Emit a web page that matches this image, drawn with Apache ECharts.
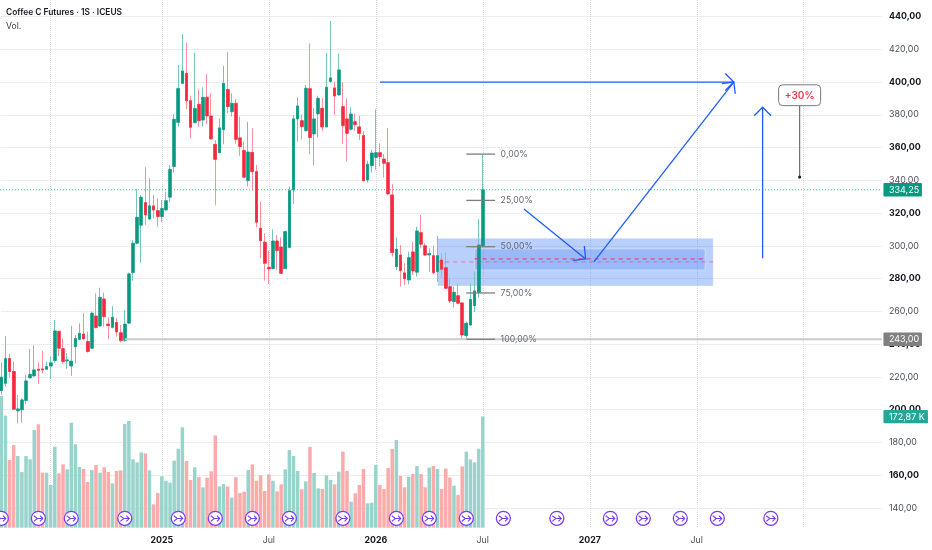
<!DOCTYPE html>
<html>
<head>
<meta charset="utf-8">
<style>html,body{margin:0;padding:0;background:#fff}#c{width:932px;height:550px}</style>
<script src="https://cdn.jsdelivr.net/npm/echarts@6/dist/echarts.min.js"></script>
</head>
<body>
<div id="c"></div>
<script>
const opens=[211.7,216.1,231.2,223.3,199.3,199.9,205.6,219.4,220.6,224.7,224.9,224.7,226.7,230,247.9,237.3,229.8,226.7,238.5,243,246.2,241.6,237.5,257.2,251.1,267.6,252.3,250.3,253.2,247,242.2,252.8,283.7,301.6,312.6,326.4,316.4,324.4,321.5,317.9,321.9,329.7,348.4,375.4,399.2,405.3,388.6,375.2,386.4,376.8,390.7,379.3,362,356.9,371,395.4,381.9,387,365.9,358.3,339.8,357.1,345.3,310.7,302.2,286.9,286.1,303,299.3,286.1,299.1,334.1,377.5,376.4,370.3,396,368.3,380.5,384,372.6,400.4,396.4,392.1,385,377.5,371.2,375.8,372.6,367.3,340.2,349,354,356.9,353,350.8,331.1,287.3,294.4,283.5,279.2,296.3,283.9,308.1,300.1,294.5,294,284.3,291.4,286.7,275.1,266,269.6,265.2,245.2,251.7,263.5,271.7,300.1];
const highs=[228.8,245,234,229.4,209,207,221.2,237.1,239.3,229,235.9,229.4,232.4,254.8,248,243.6,234.4,251.1,245.6,252.8,258.9,247.7,259.9,271,274.5,271.5,256.4,263.3,255.8,251.7,260.9,283.7,303.6,334.7,331.1,348,341.2,331.1,329,328,333.1,349.4,380.5,410.4,429.3,424,391.7,417.9,395.6,396.8,404.9,393.1,364.6,377.9,410,418.5,393.1,389.7,378.9,363.6,375.8,371.8,349.4,327,307.7,297.1,310.1,306.6,305.2,309.3,336.2,379.9,390.7,380.3,398.2,423.6,384,391.7,390.1,417.9,437.2,400.2,417.5,399.8,390.1,384.6,380.9,379.3,370.1,352,358.6,383.4,362.6,356.1,372,337.8,305,300.5,289.4,296.5,302.6,311.7,318.9,301.6,298.5,300.1,306,295.5,296.1,280.2,275.1,277.2,265.4,253.8,277.2,284.3,316.2,356.1];
const lows=[209,214.1,219.8,199.9,191.7,192.1,203.3,219.2,220.2,215.7,222.2,224.3,218.8,228.8,232.8,228,224.9,220.6,228.3,242.6,243,234.9,237.1,249.7,250.7,250.7,243,249.7,244.6,241,241.6,252.8,278.8,301,289.4,312.8,315.8,316.8,311.8,314.4,321.5,326.6,344.7,372.8,398.8,383.4,365.7,374.8,372.8,372.8,374.4,364.6,324.8,356.5,362,380.9,378.9,362.2,354.9,341.3,336.2,333.7,311.4,292.4,278.8,276.7,285.7,285.3,282.8,285.7,298.5,325.6,363.6,365,369.7,355.9,349,366.3,370,372.4,399.6,379.9,391.7,362.2,351.4,370.3,370.3,364.6,339.2,338.6,344.7,346.3,348.4,341.7,331.1,293.5,285.3,275.1,276.1,276.5,282.2,281.2,298.5,294,283.9,282.8,278.2,280.6,274,265,262.3,264.3,242.6,243,251.3,259.5,268.4,299.5];
const closes=[219.8,231.2,223.3,200.3,200.5,206,217.6,221.6,224.3,224.1,224.3,226.3,228.6,248.1,237.5,229.4,230.4,229.6,243.4,246.6,243.2,235.5,258.9,250.1,268.6,256.8,251.3,256.4,247.5,242.2,252.3,282.9,301.6,317.5,329.7,318.9,324.4,321.9,317.9,322.9,327.6,346.7,377.3,396,406.7,388.6,372.4,383.8,376.4,390.7,379.3,365.3,352.8,372,399.2,385,387,365,360.6,341.9,357.3,345.3,314.4,303.2,289.4,285.9,303,297.1,283.2,308.7,333.7,377.5,385.4,372.8,396.2,366.1,377.5,390.1,372.6,396.8,402.5,391.5,407.4,373.4,368.7,380.5,374,368.7,339.8,349.8,356.7,356.9,354.5,350.4,331.7,295.9,297.9,284.9,280,292.8,284.7,309.1,301,294.4,295.3,283.7,294,285.7,274.1,266.4,271.7,265,245.6,252.8,267.2,272.5,300.5,334.25];
const volumes=[204.9,174.3,105.3,128.6,111.5,86.6,111.5,106.3,152,160.8,85.6,85.6,66.4,126,84.5,98.6,90.8,163.4,129.7,94.4,91.3,71.1,89.7,97.5,85.6,93.9,86.6,69,88.2,89.2,161.3,166,106.3,101.7,117.2,115.7,89.2,36.3,53.9,79.9,73.1,70,104.3,122.9,156.1,103.7,74.2,93.9,78.8,62.8,77.8,87.7,143.7,64.3,67.9,64.3,46.7,78.8,53.9,56,89.7,98.6,73.1,81.4,57.1,83,73.1,56.5,67.4,90.8,120.9,111.5,88.2,59.7,72.1,125.5,85.1,61.2,60.2,81.4,74.2,67.4,87.1,118.3,88.2,40.5,53.4,66.4,91.3,37.9,38.9,97.5,66.4,60.2,92.8,122.4,136.4,80.4,62.8,79.4,83.5,96,83.5,62.8,93.4,96,91.3,60.2,91.8,77.8,65.4,50.8,95.4,118.3,106.3,101.7,122.9,172.87];
const tickIndex=[12,39,65,91,117,143,169,195];
const tickLabels=['Jul','2025','Jul','2026','Jul','2027','Jul','2028'];
const boldPrices=[440,400,360,320,280,240,200,160];
const eventIndex=[0,9,17,30,43,52,61,70,83,96,104,113,122,135,148,156,165,174,187];
const eventLevel=[14.6];
const fibLevels=[356,327.75,299.5,271.25,243];
const fibLabels=['0,00%','25,00%','50,00%','75,00%','100,00%'];
const fibRange=[113,120];
const supportLine=[30,214,243];
const lastPrice=334.25;
const zoneOuter=[106,304.6,173,275.5];
const zoneInner=[115,298.1,171,285.3];
const dashLines=[[115,171,292],[106,173,290.2]];
const arrows=[[92,400,178,400],[127,322.5,142,292],[144,290.2,178,400],[185,292.4,185,384.6]];
const callout=[194,342,385.6,398.3,'+30%'];
const barCount=215;

const cats=Array.from({length:barCount},(_,i)=>String(i));
const tickAt=new Map(tickIndex.map((t,i)=>[t,tickLabels[i]]));
const UP='#089981',DOWN='#f5293f',UPW='#74c7b8',DOWNW='#f8919c',UPV='#98d4cb',DOWNV='#fcabab';
const FONT='Inter, "Noto Sans", sans-serif';
const GRID='#d9dbe1';
const fmt=v=>v.toFixed(2).replace('.',',');
const isUp=i=>closes[i]>=opens[i];

function head(a,b,len,ang){
  const t=Math.atan2(b[1]-a[1],b[0]-a[0]);
  return [[b[0]-len*Math.cos(t-ang),b[1]-len*Math.sin(t-ang)],b,[b[0]-len*Math.cos(t+ang),b[1]-len*Math.sin(t+ang)]];
}
const line=(p,q,style)=>({type:'line',shape:{x1:p[0],y1:p[1],x2:q[0],y2:q[1]},style:Object.assign({fill:null},style)});
const poly=(pts,style)=>({type:'polyline',shape:{points:pts},style:Object.assign({fill:null},style)});

function renderZones(p,api){
  const r=(z,fill)=>{const a=api.coord([z[0],z[1]]),b=api.coord([z[2],z[3]]);
    return {type:'rect',shape:{x:a[0],y:a[1],width:b[0]-a[0],height:b[1]-a[1]},style:{fill:fill,stroke:'rgba(255,255,255,0.35)',lineWidth:1}};};
  return {type:'group',children:[r(zoneOuter,'rgba(41,110,245,0.33)'),r(zoneInner,'rgba(41,110,245,0.22)')]};
}
function renderMarks(p,api){
  const c=[];
  const rightEnd=api.coord([barCount-1,lastPrice])[0];
  const zero=api.coord([0,lastPrice]);
  c.push(line([0,zero[1]],[rightEnd,zero[1]],{stroke:'#3fb8a3',lineWidth:1,lineDash:[1,2]}));
  const s1=api.coord([supportLine[0],supportLine[2]]),s2=api.coord([supportLine[1],supportLine[2]]);
  c.push(line(s1,s2,{stroke:'#cacaca',lineWidth:2}));
  dashLines.forEach((d,i)=>c.push(line(api.coord([d[0],d[2]]),api.coord([d[1],d[2]]),{stroke:i?'rgba(242,54,100,0.45)':'rgba(235,40,100,0.8)',lineWidth:1.2,lineDash:[4,4]})));
  fibLevels.forEach((v,i)=>{
    const a=api.coord([fibRange[0],v]),b=api.coord([fibRange[1],v]);
    c.push(line(a,b,{stroke:'#7d7d7d',lineWidth:1.3}));
    c.push({type:'text',style:{text:fibLabels[i],x:b[0]+5.5,y:b[1],fill:'#666973',font:'8.7px '+FONT,textAlign:'left',textVerticalAlign:'middle'}});
  });
  arrows.forEach((r,i)=>{
    const a=api.coord([r[0],r[1]]),b=api.coord([r[2],r[3]]);
    const st={stroke:'#1f5cff',lineWidth:1.3};
    c.push(line(a,b,st));
    c.push(poly(head(a,b,i===1?13:12,Math.PI/4),st));
  });
  const d=api.coord([callout[0],callout[1]]),bot=api.coord([callout[0],callout[2]]),top=api.coord([callout[0],callout[3]]);
  c.push(line(bot,d,{stroke:'#6f6f6f',lineWidth:1.2}));
  c.push({type:'circle',shape:{cx:d[0],cy:d[1],r:1.6},style:{fill:'#222'}});
  c.push({type:'rect',shape:{x:d[0]-21,y:top[1],width:42,height:bot[1]-top[1],r:4},style:{fill:'#fff',stroke:'#7a7a7a',lineWidth:1}});
  c.push({type:'text',style:{text:callout[4],x:d[0],y:(top[1]+bot[1])/2+.5,fill:'#f23645',font:'600 10px '+FONT,textAlign:'center',textVerticalAlign:'middle'}});
  const tag=(y,text,fill,w)=>{
    c.push({type:'rect',shape:{x:rightEnd+1.5,y:y-6.7,width:w,height:13.4,r:1},style:{fill:fill}});
    c.push({type:'text',style:{text:text,x:rightEnd+7,y:y+.3,fill:'#fff',font:'9px '+FONT,textAlign:'left',textVerticalAlign:'middle'}});
  };
  tag(api.coord([0,lastPrice])[1],fmt(lastPrice),UP,38.5);
  tag(api.coord([0,supportLine[2]])[1],fmt(supportLine[2]),'#808080',38.5);
  return {type:'group',children:c};
}
function renderEvents(p,api){
  const c=[];
  eventIndex.forEach(i=>{
    const o=api.coord([i,eventLevel[0]]);
    const x=o[0],y=o[1],st={stroke:'#7a3cf0',lineWidth:1.1};
    c.push({type:'circle',shape:{cx:x,cy:y,r:7},style:{fill:'#fff',stroke:'#7a3cf0',lineWidth:1.3}});
    c.push(poly([[x-4.6,y-2.6],[x-1,y+.2],[x+4.4,y+.2]],st));
    c.push(poly([[x-4.6,y+3],[x-1,y+.2]],st));
    c.push(poly([[x+1.6,y-2.6],[x+4.4,y+.2],[x+1.6,y+3]],st));
  });
  return {type:'group',children:c};
}
function renderVolTag(p,api){
  const last=volumes.length-1;
  const y=api.coord([last,volumes[last]])[1];
  const rx=api.coord([barCount-1,0])[0];
  return {type:'group',children:[
    {type:'rect',shape:{x:rx+1.5,y:y-6.7,width:44.5,height:13.4,r:1},style:{fill:'#26a69a'}},
    {type:'text',style:{text:'172,87 K',x:rx+7,y:y+.3,fill:'#fff',font:'9px '+FONT,textAlign:'left',textVerticalAlign:'middle'}}
  ]};
}

const chart=echarts.init(document.getElementById('c'),null,{renderer:'canvas'});
chart.setOption({
  animation:false,
  backgroundColor:'#ffffff',
  title:{left:6,top:8.5,text:'Coffee C Futures · 1S · ICEUS',subtext:'Vol.',itemGap:5,padding:0,
    textStyle:{fontFamily:FONT,fontSize:8.4,fontWeight:600,color:'#131722'},
    subtextStyle:{fontFamily:FONT,fontSize:8.6,color:'#3c404a'}},
  grid:[
    {left:1.33,width:880.6,top:16.5,height:491.5},
    {left:1.33,width:880.6,top:0,height:527.7}
  ],
  xAxis:[
    {type:'category',gridIndex:0,data:cats,boundaryGap:false,show:false},
    {type:'category',gridIndex:1,data:cats,boundaryGap:false,
      axisLine:{show:false},axisTick:{show:false},
      splitLine:{show:true,interval:(i)=>tickAt.has(i),lineStyle:{color:GRID,type:'dotted',width:1}},
      axisLabel:{interval:(i)=>tickAt.has(i),margin:8,hideOverlap:false,showMinLabel:false,showMaxLabel:false,
        formatter:(v)=>{const t=tickAt.get(+v);return t===undefined?'':(t==='Jul'?'{m|Jul}':'{y|'+t+'}');},
        rich:{m:{fontFamily:FONT,fontSize:8.8,color:'#4a4e59'},y:{fontFamily:FONT,fontSize:8.8,fontWeight:700,color:'#131722'}}}}
  ],
  yAxis:[
    {type:'value',gridIndex:0,position:'right',min:140,max:440,interval:20,
      axisLine:{show:false},axisTick:{show:false},
      splitLine:{show:true,lineStyle:{color:GRID,type:'dotted',width:1}},
      axisLabel:{margin:7,showMinLabel:true,showMaxLabel:true,
        formatter:(v)=>boldPrices.includes(v)?'{b|'+fmt(v)+'}':'{n|'+fmt(v)+'}',
        rich:{b:{fontFamily:FONT,fontSize:8.9,fontWeight:700,color:'#131722'},n:{fontFamily:FONT,fontSize:8.9,color:'#4a4e59'}}}},
    {type:'value',gridIndex:1,min:0,max:821,show:false,splitLine:{show:false}}
  ],
  series:[
    {type:'bar',name:'Vol',xAxisIndex:1,yAxisIndex:1,barWidth:3.5,clip:false,z:1,
      data:volumes.map((v,i)=>({value:[i,v],itemStyle:{color:isUp(i)?UPV:DOWNV}}))},
    {type:'custom',xAxisIndex:0,yAxisIndex:0,z:1,silent:true,clip:false,renderItem:renderZones,data:[0]},
    {type:'candlestick',name:'Wicks',xAxisIndex:0,yAxisIndex:0,barWidth:2,z:2,clip:false,
      itemStyle:{color:UPW,color0:DOWNW,borderColor:UPW,borderColor0:DOWNW,borderWidth:1},
      data:opens.map((o,i)=>[o,closes[i],lows[i],highs[i]])},
    {type:'candlestick',name:'Bodies',xAxisIndex:0,yAxisIndex:0,barWidth:3.2,z:3,clip:false,
      itemStyle:{color:UP,color0:DOWN,borderColor:UP,borderColor0:DOWN,borderWidth:0.6},
      data:opens.map((o,i)=>[o,closes[i],Math.min(o,closes[i]),Math.max(o,closes[i])])},
    {type:'custom',xAxisIndex:1,yAxisIndex:1,z:4,silent:true,clip:false,renderItem:renderEvents,data:[0]},
    {type:'custom',xAxisIndex:0,yAxisIndex:0,z:5,silent:true,clip:false,renderItem:renderMarks,data:[0]},
    {type:'custom',xAxisIndex:1,yAxisIndex:1,z:6,silent:true,clip:false,renderItem:renderVolTag,data:[0]}
  ]
});
</script>
</body>
</html>
